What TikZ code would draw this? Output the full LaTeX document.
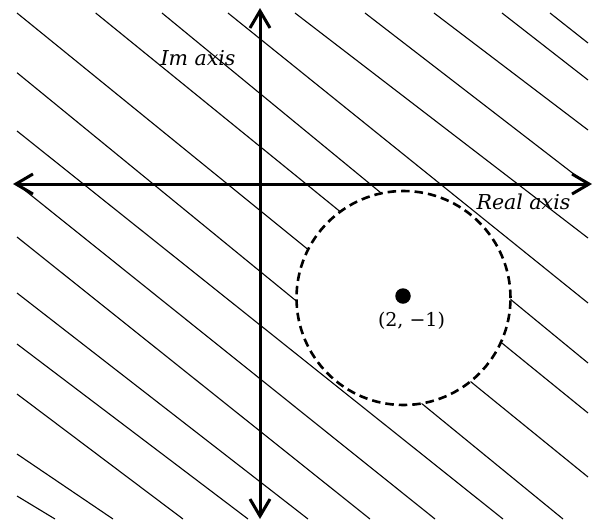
\documentclass[tikz,border=0pt]{standalone}
\usepackage{fontspec}
\setmainfont{DejaVu Serif}
\usetikzlibrary{arrows.meta}
\begin{document}
\begin{tikzpicture}[x=1pt,y=-1pt,
  hatch/.style={line width=1.1pt},
  axisline/.style={line width=3pt,
    {Straight Barb[length=17pt,width=20pt]}-{Straight Barb[length=17pt,width=20pt]}},
  ring/.style={line width=2.6pt,dash pattern=on 8.5pt off 5pt},
  axlab/.style={font=\fontsize{20.5}{24}\selectfont\itshape, inner sep=0pt},
  ptlab/.style={font=\fontsize{19}{22}\selectfont, inner sep=0pt},
  dotnode/.style={circle,fill=black,inner sep=0pt,minimum size=15.5pt}]
\useasboundingbox (0,0) rectangle (595,520);
% hatching
\foreach \xa/\ya/\xb/\yb in {
  17/13/588/477, 95.7/13/588/413, 162/13/588/363, 228/13/588/303,
  295/13/588/238, 365/13/588/185, 434/13/588/130, 502/13/588/80,
  550/13/588/43,
  17/72.7/563/519, 17/131/503/519, 17/184/435/519, 17/237/370/519,
  17/293/308/519, 17/344/248/519, 17/394/183/519, 17/454/113/519,
  17/496/55/519}
  \draw[hatch] (\xa,\ya) -- (\xb,\yb);
% disc
\coordinate (c) at (403.5,298);
\fill[white] (c) circle (107pt);
\draw[ring] (c) circle (107pt);
% axes
\coordinate (xl) at (13,184);
\coordinate (xr) at (592,184);
\coordinate (yt) at (260,8);
\coordinate (yb) at (260,519);
\draw[axisline] (xl) -- (xr);
\draw[axisline] (yb) -- (yt);
% point
\node[dotnode] (dot) at (403,296) {};
\node[ptlab] (ptl) at (411.5,321) {(2, −1)};
% labels
\node[axlab] (iml) at (198,58) {Im axis};
\node[axlab] (rel) at (523.5,202) {Real axis};
\end{tikzpicture}
\end{document}
